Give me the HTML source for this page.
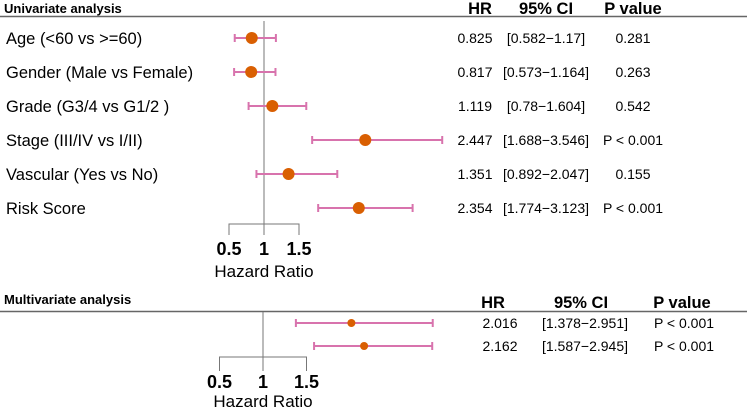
<!DOCTYPE html>
<html><head><meta charset="utf-8"><style>
body{margin:0;background:#fff;}
svg text{font-family:"Liberation Sans",Arial,sans-serif;}
</style></head><body>
<svg id="c" width="747" height="410" xmlns="http://www.w3.org/2000/svg">
<text x="4" y="13" font-size="13" font-weight="bold">Univariate analysis</text>
<line x1="0" y1="16.5" x2="747" y2="16.5" stroke="#666" stroke-width="1.5"/>
<text x="480" y="14" font-size="16.5" font-weight="bold" text-anchor="middle">HR</text>
<text x="546" y="14" font-size="16.5" font-weight="bold" text-anchor="middle">95% CI</text>
<text x="633" y="14" font-size="16.5" font-weight="bold" text-anchor="middle">P value</text>
<text x="4" y="304" font-size="13" font-weight="bold">Multivariate analysis</text>
<line x1="0" y1="311.5" x2="747" y2="311.5" stroke="#666" stroke-width="1.5"/>
<text x="493" y="308" font-size="16.5" font-weight="bold" text-anchor="middle">HR</text>
<text x="581" y="308" font-size="16.5" font-weight="bold" text-anchor="middle">95% CI</text>
<text x="682" y="308" font-size="16.5" font-weight="bold" text-anchor="middle">P value</text>
<g id="g"></g>
</svg>
<script>
const uniLabels=["Age (<60 vs >=60)","Gender (Male vs Female)","Grade (G3/4 vs G1/2 )","Stage (III/IV vs I/II)","Vascular (Yes vs No)","Risk Score"];
const uniHR=[0.825,0.817,1.119,2.447,1.351,2.354];
const uniLo=[0.582,0.573,0.78,1.688,0.892,1.774];
const uniHi=[1.17,1.164,1.604,3.546,2.047,3.123];
const uniP=["0.281","0.263","0.542","P < 0.001","0.155","P < 0.001"];
const multiHR=[2.016,2.162];
const multiLo=[1.378,1.587];
const multiHi=[2.951,2.945];
const multiP=["P < 0.001","P < 0.001"];
const ticks=[0.5,1,1.5];
const NS="http://www.w3.org/2000/svg";
const g=document.getElementById('g');
function mk(t,a,txt){const e=document.createElementNS(NS,t);for(const k in a)e.setAttribute(k,a[k]);if(txt!=null)e.textContent=txt;g.appendChild(e);return e;}
const pink="#d873ad",orange="#d95f02";
function panel(o){
  const x=v=>o.x1+(v-1)*o.k;
  const y=i=>o.y0+i*o.dy;
  let e=mk('line',{x1:x(1),x2:x(1),y1:o.top,y2:o.bracketY+o.tk,stroke:'#777','stroke-width':1});
  
  
  e=mk('path',{d:`M${x(ticks[0])},${o.bracketY+o.tk}V${o.bracketY}H${x(ticks[ticks.length-1])}V${o.bracketY+o.tk}`,fill:'none',stroke:'#777','stroke-width':1});
  
  
  ticks.forEach(t=>{
    const tl=mk('text',{x:x(t),y:o.labY,'font-size':18,'font-weight':'bold','text-anchor':'middle'},String(t));
    
    
  });
  e=mk('text',{x:x(1),y:o.titY,'font-size':17,'text-anchor':'middle'},'Hazard Ratio');
  
  
  o.hr.forEach((h,i)=>{
    const yy=y(i);
    if(o.labels){const l=mk('text',{x:6,y:yy+6,'font-size':16.5},o.labels[i]);
      
      }
    const c=mk('path',{d:`M${x(o.lo[i])},${yy}H${x(o.hi[i])}M${x(o.lo[i])},${yy-4}V${yy+4}M${x(o.hi[i])},${yy-4}V${yy+4}`,stroke:pink,'stroke-width':2,fill:'none'});
    
    
    const d=mk('circle',{cx:x(h),cy:yy,r:o.r,fill:orange});
    
    
    const t1=mk('text',{x:o.cHR,y:yy+5,'font-size':14,'text-anchor':'middle'},h.toFixed(3));
    
    
    const t2=mk('text',{x:o.cCI,y:yy+5,'font-size':14,'text-anchor':'middle'},'['+o.lo[i]+'\u2212'+o.hi[i]+']');
    
    
    const t3=mk('text',{x:o.cP,y:yy+5,'font-size':14,'text-anchor':'middle'},o.pv[i]);
    
    
  });
}
panel({p:'uni',x1:264,k:70,y0:38,dy:34,top:21,bracketY:224,tk:11,labY:255,titY:277,r:6,labels:uniLabels,hr:uniHR,lo:uniLo,hi:uniHi,pv:uniP,cHR:475,cCI:546,cP:633});
panel({p:'multi',x1:263,k:87,y0:323,dy:23,top:312,bracketY:357,tk:14,labY:388,titY:407,r:4,labels:null,hr:multiHR,lo:multiLo,hi:multiHi,pv:multiP,cHR:500,cCI:585,cP:684});
</script>
</body></html>
